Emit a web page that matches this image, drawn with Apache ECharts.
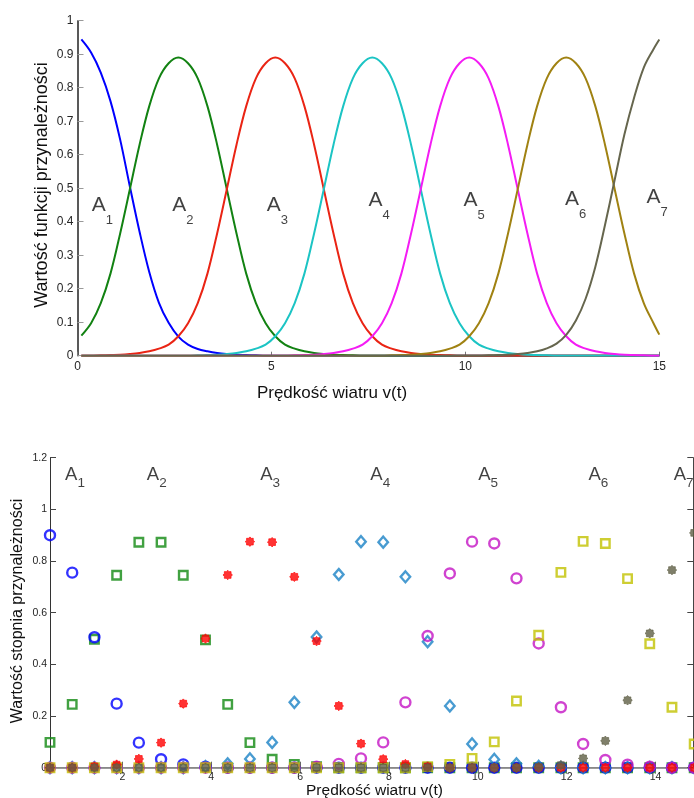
<!DOCTYPE html>
<html>
<head>
<meta charset="utf-8">
<script src="https://cdn.jsdelivr.net/npm/echarts@6/dist/echarts.min.js"></script>
<style>
  html, body { margin: 0; padding: 0; background: #fff; }
  #chart { width: 694px; height: 798px; }
</style>
</head>
<body>
<div id="chart"></div>
<script>
// --- górny wykres: funkcje przynależności A1..A7 ---
var topX = [0.1, 0.35, 0.6, 0.85, 1.1, 1.35, 1.6, 1.85, 2.1, 2.35,
    2.6, 2.85, 3.1, 3.35, 3.6, 3.85, 4.1, 4.35, 4.6, 4.85,
    5.1, 5.35, 5.6, 5.85, 6.1, 6.35, 6.6, 6.85, 7.1, 7.35,
    7.6, 7.85, 8.1, 8.35, 8.6, 8.85, 9.1, 9.35, 9.6, 9.85,
    10.1, 10.35, 10.6, 10.85, 11.1, 11.35, 11.6, 11.85, 12.1, 12.35,
    12.6, 12.85, 13.1, 13.35, 13.6, 13.85, 14.1, 14.35, 14.6, 14.85, 15];

var topA1 = [0.944, 0.905, 0.845, 0.76, 0.645, 0.505, 0.37, 0.25, 0.158, 0.098,
    0.057, 0.033, 0.02, 0.013, 0.008, 0.005, 0.003, 0.002, 0.001, 0,
    0, 0, 0, 0, 0, 0, 0, 0, 0, 0,
    0, 0, 0, 0, 0, 0, 0, 0, 0, 0,
    0, 0, 0, 0, 0, 0, 0, 0, 0, 0,
    0, 0, 0, 0, 0, 0, 0, 0, 0, 0, 0];
var topA2 = [0.06, 0.097, 0.157, 0.245, 0.365, 0.497, 0.63, 0.745, 0.828, 0.873,
    0.89, 0.873, 0.828, 0.745, 0.63, 0.497, 0.365, 0.245, 0.157, 0.097,
    0.058, 0.033, 0.021, 0.013, 0.008, 0.005, 0.003, 0.002, 0.001, 0,
    0, 0, 0, 0, 0, 0, 0, 0, 0, 0,
    0, 0, 0, 0, 0, 0, 0, 0, 0, 0,
    0, 0, 0, 0, 0, 0, 0, 0, 0, 0, 0];
var topA3 = [0, 0, 0.001, 0.002, 0.003, 0.005, 0.008, 0.013, 0.021, 0.033,
    0.058, 0.097, 0.157, 0.245, 0.365, 0.497, 0.63, 0.745, 0.828, 0.873,
    0.89, 0.873, 0.828, 0.745, 0.63, 0.497, 0.365, 0.245, 0.157, 0.097,
    0.058, 0.033, 0.021, 0.013, 0.008, 0.005, 0.003, 0.002, 0.001, 0,
    0, 0, 0, 0, 0, 0, 0, 0, 0, 0,
    0, 0, 0, 0, 0, 0, 0, 0, 0, 0, 0];
var topA4 = [0, 0, 0, 0, 0, 0, 0, 0, 0, 0,
    0, 0, 0.001, 0.002, 0.003, 0.005, 0.008, 0.013, 0.021, 0.033,
    0.058, 0.097, 0.157, 0.245, 0.365, 0.497, 0.63, 0.745, 0.828, 0.873,
    0.89, 0.873, 0.828, 0.745, 0.63, 0.497, 0.365, 0.245, 0.157, 0.097,
    0.058, 0.033, 0.021, 0.013, 0.008, 0.005, 0.003, 0.002, 0.001, 0,
    0, 0, 0, 0, 0, 0, 0, 0, 0, 0, 0];
var topA5 = [0, 0, 0, 0, 0, 0, 0, 0, 0, 0,
    0, 0, 0, 0, 0, 0, 0, 0, 0, 0,
    0, 0, 0.001, 0.002, 0.003, 0.005, 0.008, 0.013, 0.021, 0.033,
    0.058, 0.097, 0.157, 0.245, 0.365, 0.497, 0.63, 0.745, 0.828, 0.873,
    0.89, 0.873, 0.828, 0.745, 0.63, 0.497, 0.365, 0.245, 0.157, 0.097,
    0.058, 0.033, 0.021, 0.013, 0.008, 0.005, 0.003, 0.002, 0.001, 0, 0];
var topA6 = [0, 0, 0, 0, 0, 0, 0, 0, 0, 0,
    0, 0, 0, 0, 0, 0, 0, 0, 0, 0,
    0, 0, 0, 0, 0, 0, 0, 0, 0, 0,
    0, 0, 0.001, 0.002, 0.003, 0.005, 0.008, 0.013, 0.021, 0.033,
    0.058, 0.097, 0.157, 0.245, 0.365, 0.497, 0.63, 0.745, 0.828, 0.873,
    0.89, 0.873, 0.828, 0.745, 0.63, 0.497, 0.365, 0.245, 0.157, 0.097, 0.063];
var topA7 = [0, 0, 0, 0, 0, 0, 0, 0, 0, 0,
    0, 0, 0, 0, 0, 0, 0, 0, 0, 0,
    0, 0, 0, 0, 0, 0, 0, 0, 0, 0,
    0, 0, 0, 0, 0, 0, 0, 0, 0, 0,
    0, 0, 0.001, 0.002, 0.003, 0.005, 0.008, 0.013, 0.022, 0.036,
    0.062, 0.105, 0.17, 0.265, 0.39, 0.525, 0.66, 0.77, 0.86, 0.915, 0.944];

var topLabelX = [0.37, 2.44, 4.88, 7.5, 9.95, 12.57, 14.67];
var topLabelY = [0.45, 0.45, 0.45, 0.465, 0.463, 0.467, 0.472];
var labelSub = ['1', '2', '3', '4', '5', '6', '7'];

// --- dolny wykres: stopnie przynależności próbek ---
var botX = [0.37, 0.87, 1.37, 1.87, 2.37, 2.87, 3.37, 3.87, 4.37, 4.87,
    5.37, 5.87, 6.37, 6.87, 7.37, 7.87, 8.37, 8.87, 9.37, 9.87,
    10.37, 10.87, 11.37, 11.87, 12.37, 12.87, 13.37, 13.87, 14.37, 14.87];
var botA1 = [0.9, 0.755, 0.505, 0.248, 0.097, 0.033, 0.013, 0.004, 0, 0,
    0, 0, 0, 0, 0, 0, 0, 0, 0, 0,
    0, 0, 0, 0, 0, 0, 0, 0, 0, 0];
var botA2 = [0.098, 0.245, 0.497, 0.745, 0.873, 0.873, 0.745, 0.495, 0.245, 0.097,
    0.033, 0.013, 0.004, 0, 0, 0, 0, 0, 0, 0,
    0, 0, 0, 0, 0, 0, 0, 0, 0, 0];
var botA3 = [0, 0, 0.004, 0.012, 0.034, 0.097, 0.248, 0.5, 0.746, 0.875,
    0.873, 0.739, 0.49, 0.239, 0.093, 0.033, 0.014, 0.004, 0, 0,
    0, 0, 0, 0, 0, 0, 0, 0, 0, 0];
var botA4 = [0, 0, 0, 0, 0, 0, 0, 0.004, 0.015, 0.034,
    0.098, 0.253, 0.506, 0.748, 0.875, 0.873, 0.739, 0.488, 0.239, 0.092,
    0.032, 0.015, 0.005, 0, 0, 0, 0, 0, 0, 0];
var botA5 = [0, 0, 0, 0, 0, 0, 0, 0, 0, 0,
    0, 0, 0.004, 0.015, 0.036, 0.098, 0.253, 0.51, 0.752, 0.875,
    0.868, 0.733, 0.481, 0.234, 0.092, 0.03, 0.012, 0.004, 0, 0];
var botA6 = [0, 0, 0, 0, 0, 0, 0, 0, 0, 0,
    0, 0, 0, 0, 0, 0, 0, 0.004, 0.013, 0.036,
    0.1, 0.258, 0.513, 0.756, 0.876, 0.868, 0.732, 0.48, 0.234, 0.092];
var botA7 = [0, 0, 0, 0, 0, 0, 0, 0, 0, 0,
    0, 0, 0, 0, 0, 0, 0, 0, 0, 0,
    0, 0, 0.003, 0.01, 0.036, 0.104, 0.261, 0.52, 0.765, 0.909];

var botTicks = [2, 4, 6, 8, 10, 12, 14];
var botLabelX = [0.71, 2.55, 5.1, 7.58, 10.01, 12.49, 14.41];
var botLabelY = [1.133, 1.133, 1.133, 1.133, 1.133, 1.133, 1.133];

var FONT = '"Liberation Sans", Arial, Helvetica, sans-serif';
// gwiazdka jak marker '*' (gruba linia => wypełniona gwiazdka)
var ASTERISK = 'path://M10,5L8.51,6.45L8.54,8.54L6.45,8.51L5,10L3.55,8.51L1.46,8.54L1.49,6.45L0,5L1.49,3.55L1.46,1.46L3.55,1.49L5,0L6.45,1.49L8.54,1.46L8.51,3.55Z';

var myChart = echarts.init(document.getElementById('chart'));

function pairs(xs, ys) {
    return xs.map(function(x, i) { return [x, ys[i]]; });
}

function curve(name, values, color) {
    return {
        name: name,
        type: 'line',
        xAxisIndex: 0,
        yAxisIndex: 0,
        data: pairs(topX, values),
        showSymbol: false,
        smooth: 0.35,
        lineStyle: { color: color, width: 2 },
        itemStyle: { color: color },
        silent: true
    };
}

function marks(name, values, color, symbol, size, filled) {
    return {
        name: name,
        type: 'scatter',
        xAxisIndex: 1,
        yAxisIndex: 1,
        data: pairs(botX, values),
        symbol: symbol,
        symbolSize: size,
        clip: false,
        itemStyle: {
            color: filled ? color : 'rgba(0,0,0,0)',
            borderColor: color,
            borderWidth: filled ? 0.8 : 2.4
        },
        silent: true
    };
}

function labels(xs, ys, xi, yi, big, small, drop) {
    return {
        type: 'scatter',
        xAxisIndex: xi,
        yAxisIndex: yi,
        data: xs.map(function(x, i) { return { value: [x, ys[i]], sub: labelSub[i] }; }),
        symbolSize: 1,
        clip: false,
        itemStyle: { color: 'rgba(0,0,0,0)' },
        silent: true,
        z: 10,
        label: {
            show: true,
            position: 'inside',
            align: 'left',
            verticalAlign: 'middle',
            formatter: function(p) { return '{a|A}{s|' + p.data.sub + '}'; },
            rich: {
                a: { fontSize: big, fontFamily: FONT, color: '#111', verticalAlign: 'middle' },
                s: { fontSize: small, fontFamily: FONT, color: '#111', verticalAlign: 'middle',
                     padding: [drop * 2, 0, 0, 0] }
            }
        }
    };
}

var option = {
    animation: false,
    backgroundColor: '#fff',
    grid: [
        { left: 77.5, top: 20.7, width: 581.8, height: 335 },
        { left: 50, top: 457.7, width: 643.3, height: 310 }
    ],
    xAxis: [{
        gridIndex: 0,
        type: 'value',
        min: 0,
        max: 15,
        interval: 5,
        axisLine: { lineStyle: { color: '#888', width: 1 } },
        axisTick: { inside: true, length: 4, lineStyle: { color: '#777' } },
        axisLabel: { fontSize: 12, fontFamily: FONT, color: '#262626', margin: 5 },
        splitLine: { show: false }
    }, {
        gridIndex: 1,
        type: 'value',
        min: 0.37,
        max: 14.85,
        axisLine: { lineStyle: { color: '#9a9a9a', width: 2 } },
        axisTick: { inside: true, length: 6, customValues: botTicks, lineStyle: { color: '#666' } },
        axisLabel: { fontSize: 10.5, fontFamily: FONT, color: '#262626', margin: 4, customValues: botTicks },
        splitLine: { show: false }
    }, {
        gridIndex: 1,
        type: 'value',
        position: 'top',
        min: 0.37,
        max: 14.85,
        axisLine: { lineStyle: { color: '#888', width: 1 } },
        axisTick: { inside: true, length: 6, customValues: botTicks, lineStyle: { color: '#777' } },
        axisLabel: { show: false },
        splitLine: { show: false }
    }],
    yAxis: [{
        gridIndex: 0,
        type: 'value',
        min: 0,
        max: 1,
        interval: 0.1,
        axisLine: { show: true, lineStyle: { color: '#222', width: 1.5 } },
        axisTick: { show: true, inside: true, length: 6, lineStyle: { color: '#999' } },
        axisLabel: { fontSize: 12, fontFamily: FONT, color: '#262626', margin: 4 },
        splitLine: { show: false }
    }, {
        gridIndex: 1,
        type: 'value',
        min: 0,
        max: 1.2,
        interval: 0.2,
        axisLine: { show: true, lineStyle: { color: '#333', width: 1 } },
        axisTick: { show: true, inside: true, length: 6, lineStyle: { color: '#444' } },
        axisLabel: { fontSize: 10.5, fontFamily: FONT, color: '#262626', margin: 3 },
        splitLine: { show: false }
    }, {
        gridIndex: 1,
        type: 'value',
        position: 'right',
        min: 0,
        max: 1.2,
        interval: 0.2,
        axisLine: { show: true, lineStyle: { color: '#444', width: 1 } },
        axisTick: { show: true, inside: true, length: 6, lineStyle: { color: '#444' } },
        axisLabel: { show: false },
        splitLine: { show: false }
    }],
    series: [
        curve('A1', topA1, '#0000ff'),
        curve('A2', topA2, '#128212'),
        curve('A3', topA3, '#ea2414'),
        curve('A4', topA4, '#1cc4c4'),
        curve('A5', topA5, '#f41cf4'),
        curve('A6', topA6, '#a08212'),
        curve('A7', topA7, '#66664e'),
        labels(topLabelX, topLabelY, 0, 0, 21, 13, 15),

        marks('A2', botA2, '#128a12', 'rect', 8.5, false),
        marks('A1', botA1, '#0000ff', 'circle', 10, false),
        marks('A4', botA4, '#1a82c6', 'diamond', [9.5, 11], false),
        marks('A5', botA5, '#c414c4', 'circle', 10, false),
        marks('A6', botA6, '#c2c200', 'rect', 8.5, false),
        marks('A3', botA3, '#ff0000', ASTERISK, 9.5, true),
        marks('A7', botA7, '#5f5f45', ASTERISK, 9.5, true),
        labels(botLabelX, botLabelY, 1, 1, 18.5, 13.5, 8)
    ],
    graphic: [{
        type: 'text', x: 332, y: 393,
        style: { text: 'Prędkość wiatru v(t)', fontSize: 17, fontFamily: FONT, fill: '#111', align: 'center', verticalAlign: 'middle' }
    }, {
        type: 'text', x: 42, y: 185, rotation: Math.PI / 2,
        style: { text: 'Wartość funkcji przynależności', fontSize: 18, fontFamily: FONT, fill: '#111', align: 'center', verticalAlign: 'middle' }
    }, {
        type: 'text', x: 374.5, y: 791,
        style: { text: 'Prędkość wiatru v(t)', fontSize: 15.5, fontFamily: FONT, fill: '#111', align: 'center', verticalAlign: 'middle' }
    }, {
        type: 'text', x: 18, y: 611, rotation: Math.PI / 2,
        style: { text: 'Wartość stopnia przynależności', fontSize: 16, fontFamily: FONT, fill: '#111', align: 'center', verticalAlign: 'middle' }
    }]
};

myChart.setOption(option);
</script>
</body>
</html>
